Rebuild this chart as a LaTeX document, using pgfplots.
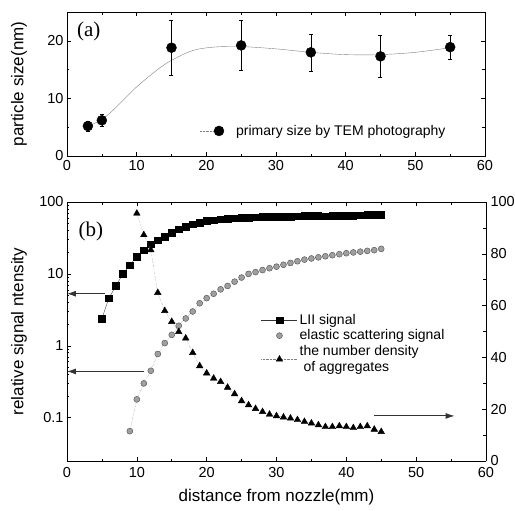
\documentclass[border=0pt]{standalone}
\usepackage{fontspec}
\setmainfont{Liberation Sans}
\newfontfamily\seriffont{Liberation Serif}
\usepackage{pgfplots}
\pgfplotsset{compat=1.18}
\usetikzlibrary{arrows.meta}

\pgfplotsset{
  every axis/.append style={
    scale only axis,
    /pgf/number format/assume math mode=true,
    tick label style={font=\fontsize{14.5}{16}\selectfont},
    label style={font=\fontsize{17}{19}\selectfont},
    axis line style={line width=0.9pt},
    major tick length=4pt,
    minor tick length=2.5pt,
    every tick/.style={black, line width=0.6pt},
  },
}
\tikzset{sigarrow/.style={-{Latex[length=9pt,width=6pt]}, line width=0.9pt, black!80}}

\begin{document}
\begin{tikzpicture}
\useasboundingbox (0pt,0pt) rectangle (515pt,-511pt);

% (a) particle size
\begin{axis}[
    at={(67pt,-156pt)}, anchor=south west,
    width=418pt, height=144pt,
    xmin=0, xmax=60, ymin=0, ymax=25,
    xtick={0,10,...,60}, ytick={0,10,20},
    minor x tick num=1, minor y tick num=1,
    xticklabel style={yshift=-1pt},
    ylabel={particle size(nm)},
    ylabel style={at={(axis description cs:-0.115,0.5)}, anchor=center},
    legend style={at={(axis description cs:0.31,0.174)}, anchor=west,
      draw=none, fill=none, font=\fontsize{14}{16}\selectfont},
  ]
  \addplot[gray, thin, smooth, forget plot] coordinates {
    (3,5.2) (5,6.3) (7,8.4) (10,12.0) (13,15.0) (15,16.6) (18,18.3)
    (21,18.9) (25,19.0) (30,18.6) (35,18.0) (40,17.6) (45,17.6)
    (50,18.0) (55,18.8)};
  \addplot[only marks, mark=*, mark size=5pt, black,
    legend image code/.code={
      \draw[gray, densely dotted, thin] (0pt,0pt) -- (14pt,0pt);
      \fill[black] (19pt,0pt) circle (5pt);
      \path (34pt,0pt);},
    error bars/.cd, y dir=both, y explicit,
    error bar style={black, thin},
    error mark options={rotate=90, mark size=2pt, black}]
  coordinates {
    (3,5.2) +- (0,0.9)
    (5,6.2) +- (0,1.0)
    (15,18.8) +- (0,4.8)
    (25,19.2) +- (0,4.3)
    (35,18.0) +- (0,3.2)
    (45,17.3) +- (0,3.7)
    (55,18.9) +- (0,2.1)};
  \addlegendentry{primary size by TEM photography}
  \node[font=\seriffont\fontsize{21}{24}\selectfont] at (axis description cs:0.052,0.868) {(a)};
\end{axis}

% (b) signals, left log axis
\begin{axis}[
    at={(67pt,-461pt)}, anchor=south west,
    width=419pt, height=259pt,
    xmin=0, xmax=60, ymode=log, ymin=0.025, ymax=100,
    axis y line*=left,
    xtick={0,10,...,60}, minor x tick num=1,
    xticklabel style={yshift=-3pt},
    ytick={0.1,1,10,100}, log ticks with fixed point,
    xlabel={distance from nozzle(mm)},
    xlabel style={at={(axis description cs:0.5,-0.139)}, anchor=center},
    ylabel={relative signal ntensity},
    ylabel style={at={(axis description cs:-0.1146,0.5)}, anchor=center},
  ]
  \addplot[black!70, thin, mark=square*, mark size=3.3pt,
    mark options={black, fill=black, solid}] coordinates {
    (5,2.4) (6,4.6) (7,6.8) (8,10) (9,13.3) (10,17.4) (11,21.5) (12,26)
    (13,29.6) (14,33) (15,37.5) (16,41.8) (17,45.4) (18,49) (19,51.6)
    (20,54.5) (21,56) (22,57.5) (23,58.5) (24,59.5) (25,60.5) (26,61)
    (27,61.5) (28,62) (29,62.5) (30,62.5) (31,63) (32,63) (33,63.5)
    (34,64) (35,64) (36,64) (37,63.5) (38,64.5) (39,64.5) (40,65)
    (41,65) (42,65.5) (43,67) (44,66.5) (45,66)};
  \addplot[gray, densely dotted, thin, mark=*, mark size=3pt,
    mark options={solid, fill=gray!75, draw=black!70}] coordinates {
    (9,0.065) (10,0.18) (11,0.30) (12,0.45) (13,0.77) (14,1.09) (15,1.42)
    (16,1.9) (17,2.4) (18,3.0) (19,3.9) (20,4.6) (21,5.3) (22,6.1)
    (23,6.8) (24,7.8) (25,8.9) (26,10.0) (27,10.6) (28,11.3) (29,12.0)
    (30,12.6) (31,13.4) (32,14.2) (33,15.0) (34,15.8) (35,16.4) (36,17.0)
    (37,17.6) (38,18.2) (39,18.8) (40,19.4) (41,19.9) (42,20.4) (43,20.9)
    (44,21.4) (45,22.3)};
  \draw[sigarrow] (axis cs:5.5,5.3) -- (axis cs:0,5.3);
  \draw[sigarrow] (axis cs:11,0.44) -- (axis cs:0,0.44);
  \node[font=\seriffont\fontsize{21}{24}\selectfont] at (axis description cs:0.057,0.888) {(b)};
\end{axis}

% (b) number density, right linear axis
\begin{axis}[
    at={(67pt,-461pt)}, anchor=south west,
    width=419pt, height=259pt,
    xmin=0, xmax=60, ymin=0, ymax=100,
    axis y line*=right, axis x line=none,
    ytick={0,20,...,100}, minor y tick num=1,
    yticklabel style={xshift=1pt},
    legend style={at={(axis description cs:0.456,0.583)}, anchor=north west,
      draw=none, fill=none, font=\fontsize{14}{16}\selectfont,
      cells={anchor=west, align=left}},
    legend image code/.code={
      \draw[mark repeat=2, mark phase=2]
        plot coordinates {(0pt,0pt) (18pt,0pt) (36pt,0pt)};},
  ]
  \addlegendimage{black!80, thin, mark=square*, mark size=3.3pt,
    mark options={black, fill=black, solid}}
  \addlegendentry{LII signal}
  \addlegendimage{only marks, mark=*, mark size=3pt,
    mark options={solid, fill=gray!75, draw=black!70}}
  \addlegendentry{elastic scattering signal}
  \addplot[gray, densely dotted, thin, mark=triangle*, mark size=3.8pt,
    mark options={solid, black, fill=black}] coordinates {
    (10,95.6) (11,87.3) (12,81.5) (13,65) (14,58) (15,53.8) (16,49.9)
    (17,47.4) (18,41.8) (19,36.7) (20,33.9) (21,31.9) (22,30.6) (23,28.4)
    (24,25.9) (25,23.2) (26,21.6) (27,20.2) (28,19.0) (29,18.0) (30,17.4)
    (31,16.9) (32,16.5) (33,15.9) (34,15.2) (35,14.6) (36,13.9) (37,13.2)
    (38,13.2) (39,13.5) (40,13.2) (41,12.8) (42,13.2) (43,13.5) (44,12.2)
    (45,11.3)};
  \addlegendentry{the number density\\\ of aggregates}
  \draw[sigarrow] (axis cs:44,17.4) -- (axis cs:55.5,17.4);
\end{axis}
\end{tikzpicture}
\end{document}
